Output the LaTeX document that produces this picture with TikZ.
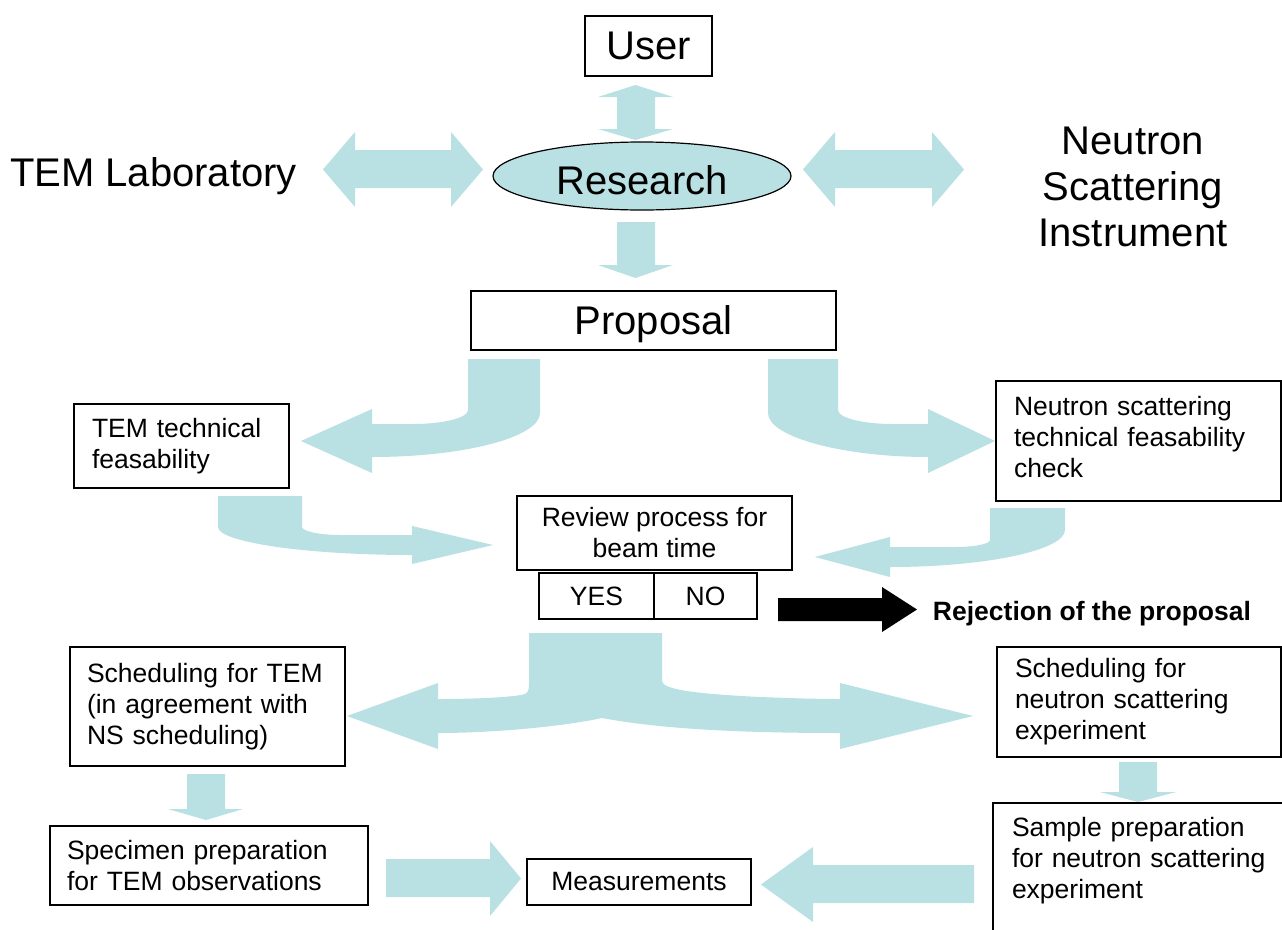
\documentclass[tikz,border=0pt]{standalone}
\usepackage{fontspec}
\setmainfont{Liberation Sans}
\usetikzlibrary{shapes.geometric}
\definecolor{lb}{RGB}{185,224,227}
\tikzset{
  blk/.style={fill=lb, draw=none},
  boxline/.style={draw=black, line width=1.5pt},
  box/.style={boxline, inner sep=0pt, font=\fontsize{26.5}{31}\selectfont},
  small/.style={font=\fontsize{26.5}{31}\selectfont},
  bigtxt/.style={font=\fontsize{40}{46}\selectfont},
}
\begin{document}
\begin{tikzpicture}[x=1pt,y=-1pt]
\useasboundingbox (0,0) rectangle (1282,929);
\fill[white] (0,0) rectangle (1282,929);

% ---------- block arrows ----------
% User <-> Research
\fill[blk] (635.5,85) -- (673,97) -- (655,97) -- (655,129) -- (673,129) -- (635.5,140)
  -- (598,129) -- (617,129) -- (617,97) -- (598,97) -- cycle;
% Research -> Proposal
\fill[blk] (617,222) -- (655,222) -- (655,265) -- (673,265) -- (635.5,278) -- (598,265) -- (617,265) -- cycle;
% TEM Laboratory <-> Research
\fill[blk] (323,169.5) -- (355,132) -- (355,150) -- (451,150) -- (451,132) -- (483,169.5)
  -- (451,207) -- (451,188) -- (355,188) -- (355,207) -- cycle;
% Research <-> Neutron Scattering Instrument
\fill[blk] (803,169.5) -- (835,132) -- (835,150) -- (932,150) -- (932,132) -- (964,169.5)
  -- (932,207) -- (932,188) -- (835,188) -- (835,207) -- cycle;
% Proposal -> TEM technical feasability
\fill[blk] (540,359) -- (540,413) .. controls (540,437) and (465,457) .. (372,457)
  -- (372,473) -- (301,441) -- (372,409) -- (372,424) -- (413,424)
  .. controls (443,424) and (468,418) .. (468,410) -- (468,359) -- cycle;
% Proposal -> Neutron scattering check
\fill[blk] (768,359) -- (768,413) .. controls (768,437) and (843,457) .. (928,457)
  -- (928,473) -- (995,441) -- (928,409) -- (928,424) -- (893,424)
  .. controls (863,424) and (838,418) .. (838,410) -- (838,359) -- cycle;
% TEM check -> Review
\fill[blk] (218,496) -- (218,527) .. controls (218,542) and (305,555) .. (412,555)
  -- (412,564) -- (493,545) -- (412,526) -- (412,535) -- (340,535)
  .. controls (319,535) and (302,531) .. (302,527) -- (302,496) -- cycle;
% NS check -> Review
\fill[blk] (1065,508) -- (1065,530) .. controls (1065,550) and (987,567) .. (890,567)
  -- (890,577) -- (815,557) -- (890,537) -- (890,547) -- (955,547)
  .. controls (974,547) and (990,544) .. (990,540) -- (990,508) -- cycle;
% split arrow from YES
\fill[blk] (529,633) -- (662,633) -- (662,681) .. controls (662,690) and (700,694) .. (760,697)
  .. controls (800,698.5) and (820,699) .. (840,699) -- (840,683) -- (973,716) -- (840,749)
  -- (840,733) .. controls (720,733) and (650,727) .. (602,718)
  .. controls (560,727) and (490,733) .. (438,733) -- (438,749) -- (347,716) -- (438,683)
  -- (438,699) .. controls (480,699) and (515,697) .. (525,694)
  .. controls (529,692) and (529,688) .. (529,683) -- cycle;
% Scheduling TEM -> Specimen
\fill[blk] (187,774) -- (225,774) -- (225,809) -- (243,809) -- (206,820) -- (168,809) -- (187,809) -- cycle;
% Scheduling NS -> Sample
\fill[blk] (1119,762) -- (1157,762) -- (1157,792) -- (1176,792) -- (1138,802) -- (1100,792) -- (1119,792) -- cycle;
% Specimen -> Measurements
\fill[blk] (386,859) -- (490,859) -- (490,841) -- (521,878.5) -- (490,916) -- (490,897) -- (386,897) -- cycle;
% Sample -> Measurements
\fill[blk] (974,865) -- (813,865) -- (813,847) -- (761,884.5) -- (813,922) -- (813,903) -- (974,903) -- cycle;
% rejection arrow
\fill[black] (778,598) -- (882,598) -- (882,587) -- (917,609.5) -- (882,632) -- (882,621) -- (778,621) -- cycle;

% ---------- nodes ----------
\node[box, bigtxt, minimum width=127pt, minimum height=60pt] (user) at (648.5,46) {User};
\node[ellipse, draw=black, line width=1.2pt, fill=lb, minimum width=298pt, minimum height=68pt,
  inner sep=0pt, bigtxt, text height=37pt, text depth=0pt] (research) at (642,176) {Research};
\node[bigtxt, anchor=base, inner sep=0pt] (temlab) at (153.5,186) {TEM Laboratory};
\node[bigtxt, align=center, inner sep=0pt] (nsi) at (1133,187) {Neutron\\Scattering\\Instrument};
\node[box, bigtxt, minimum width=365pt, minimum height=59pt, text depth=0pt] (proposal) at (653.5,320.5) {Proposal};

\node[box, minimum width=215pt, minimum height=84pt, text width=179pt, align=left] (temchk) at (181.5,446)
  {TEM technical\\feasability};
\node[box, minimum width=285pt, minimum height=120pt, text width=249pt, align=left, text depth=70pt] (nschk) at (1138.5,441)
  {Neutron scattering\\technical feasability\\check};
\node[box, minimum width=275pt, minimum height=74pt, align=center] (review) at (654.5,533)
  {Review process for\\beam time};
\node[box, minimum width=115pt, minimum height=46pt] (yes) at (596.5,596) {YES};
\node[box, minimum width=103pt, minimum height=46pt] (no) at (705.5,596) {NO};
\node[font=\bfseries\fontsize{26.5}{31}\selectfont, anchor=base, inner sep=0pt] (rej) at (1092,620) {Rejection of the proposal};

\node[box, minimum width=275pt, minimum height=119pt, text width=241pt, align=left] (schedtem) at (207.5,706.5)
  {Scheduling for TEM\\(in agreement with\\NS scheduling)};
\node[box, minimum width=318pt, minimum height=79pt, text width=284pt, align=left] (specimen) at (209,865.5)
  {Specimen preparation\\for TEM observations};
\node[box, minimum width=224pt, minimum height=46pt] (meas) at (639,882) {Measurements};
\node[box, minimum width=284pt, minimum height=110pt, text width=248pt, align=left] (schedns) at (1139,702)
  {Scheduling for\\neutron scattering\\experiment};
\node[small, inner sep=0pt, minimum width=297pt, minimum height=116pt, text width=259pt, align=left] (sample) at (1141.5,861)
  {Sample preparation\\for neutron scattering\\experiment};
\draw[boxline] ([yshift=-30pt]sample.south west) -- (sample.north west) -- (sample.north east) -- ([yshift=-30pt]sample.south east);
\end{tikzpicture}
\end{document}
